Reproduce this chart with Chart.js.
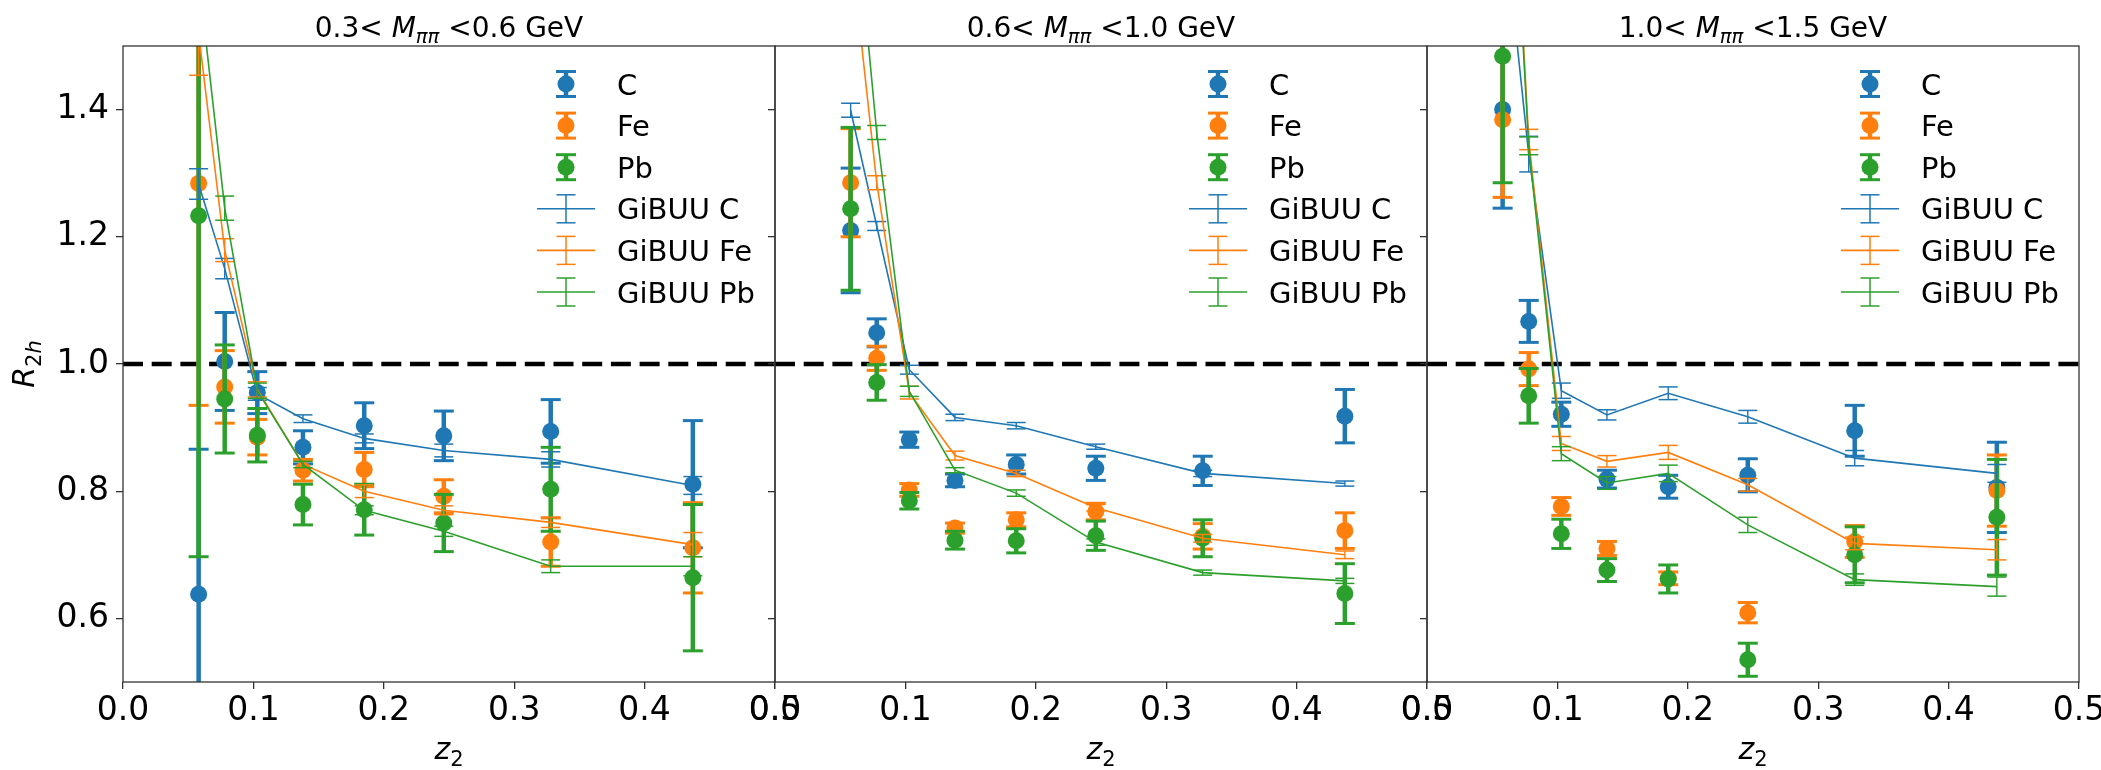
<!DOCTYPE html>
<html>
<head>
<meta charset="utf-8">
<script src="https://cdn.jsdelivr.net/npm/chart.js@4.4.0/dist/chart.umd.min.js"></script>
<style>
  body { margin: 0; background: #fff; }
  #wrap { position: relative; width: 2101px; height: 770px; overflow: hidden; background: #fff; }
  canvas { position: absolute; top: 0; }
</style>
</head>
<body>
<div id="wrap">
  <canvas id="c0" width="810" height="770" style="left:0px"></canvas>
  <canvas id="c1" width="732" height="770" style="left:730px"></canvas>
  <canvas id="c2" width="719" height="770" style="left:1382px"></canvas>
</div>
<script>
// z2 bin centres (same in all three mass bins)
const z2 = [0.058, 0.078, 0.103, 0.138, 0.185, 0.246, 0.328, 0.437];
const xTicks = [0, 0.1, 0.2, 0.3, 0.4, 0.5];
const yTicks = [0.6, 0.8, 1.0, 1.2, 1.4];
const massLo = ['0.3', '0.6', '1.0'];
const massHi = ['0.6', '1.0', '1.5'];
const nuclei = ['C', 'Fe', 'Pb'];
const refLine = 1.0;

// measured R2h, one row per mass bin
const dataC = [
    [0.638, 1.004, 0.955, 0.869, 0.903, 0.887, 0.894, 0.811],
    [1.210, 1.049, 0.881, 0.817, 0.842, 0.836, 0.832, 0.918],
    [1.400, 1.067, 0.921, 0.819, 0.807, 0.825, 0.895, 0.806]
];
const errC = [
    [0.228, 0.077, 0.033, 0.026, 0.036, 0.039, 0.050, 0.100],
    [0.098, 0.022, 0.012, 0.010, 0.015, 0.019, 0.023, 0.042],
    [0.155, 0.033, 0.019, 0.014, 0.018, 0.026, 0.040, 0.071]
];
const dataFe = [
    [1.284, 0.964, 0.885, 0.833, 0.834, 0.792, 0.720, 0.711],
    [1.285, 1.009, 0.802, 0.742, 0.755, 0.768, 0.729, 0.738],
    [1.384, 0.992, 0.776, 0.710, 0.663, 0.609, 0.721, 0.801]
];
const errFe = [
    [0.349, 0.057, 0.028, 0.017, 0.027, 0.026, 0.038, 0.071],
    [0.085, 0.019, 0.010, 0.008, 0.011, 0.013, 0.020, 0.028],
    [0.122, 0.026, 0.014, 0.011, 0.010, 0.016, 0.025, 0.056]
];
const dataPb = [
    [1.233, 0.945, 0.888, 0.779, 0.771, 0.750, 0.803, 0.664],
    [1.244, 0.971, 0.785, 0.723, 0.722, 0.730, 0.726, 0.639],
    [1.484, 0.950, 0.733, 0.676, 0.662, 0.535, 0.700, 0.759]
];
const errPb = [
    [0.536, 0.085, 0.042, 0.032, 0.040, 0.045, 0.066, 0.115],
    [0.128, 0.028, 0.013, 0.014, 0.019, 0.023, 0.029, 0.047],
    [0.199, 0.043, 0.023, 0.018, 0.022, 0.026, 0.044, 0.091]
];

// GiBUU model
const gibuuC = [
    [1.283, 1.150, 0.953, 0.914, 0.883, 0.864, 0.850, 0.809],
    [1.399, 1.217, 0.991, 0.916, 0.903, 0.870, 0.828, 0.812],
    [1.720, 1.330, 0.958, 0.920, 0.954, 0.917, 0.852, 0.828]
];
const gibuuErrC = [
    [0.024, 0.016, 0.010, 0.006, 0.007, 0.010, 0.012, 0.014],
    [0.011, 0.007, 0.007, 0.005, 0.005, 0.004, 0.005, 0.004],
    [0.040, 0.028, 0.012, 0.008, 0.010, 0.010, 0.012, 0.014]
];
const gibuuFe = [
    [1.520, 1.179, 0.960, 0.842, 0.800, 0.770, 0.751, 0.716],
    [1.660, 1.285, 0.955, 0.856, 0.828, 0.774, 0.726, 0.700],
    [2.100, 1.353, 0.875, 0.847, 0.861, 0.810, 0.718, 0.708]
];
const gibuuErrFe = [
    [0.066, 0.018, 0.012, 0.005, 0.010, 0.007, 0.008, 0.019],
    [0.030, 0.011, 0.010, 0.007, 0.005, 0.005, 0.006, 0.006],
    [0.050, 0.016, 0.011, 0.009, 0.011, 0.010, 0.010, 0.016]
];
const gibuuPb = [
    [1.610, 1.245, 0.958, 0.842, 0.770, 0.737, 0.682, 0.682],
    [1.800, 1.364, 0.957, 0.833, 0.797, 0.720, 0.672, 0.659],
    [2.080, 1.343, 0.859, 0.813, 0.828, 0.747, 0.661, 0.650]
];
const gibuuErrPb = [
    [0.030, 0.019, 0.012, 0.005, 0.007, 0.008, 0.010, 0.015],
    [0.030, 0.011, 0.008, 0.004, 0.005, 0.005, 0.004, 0.004],
    [0.050, 0.014, 0.011, 0.010, 0.013, 0.012, 0.009, 0.015]
];

const measVals = [dataC, dataFe, dataPb];
const measErrs = [errC, errFe, errPb];
const modelVals = [gibuuC, gibuuFe, gibuuPb];
const modelErrs = [gibuuErrC, gibuuErrFe, gibuuErrPb];

const colors = ['#1f77b4', '#ff7f0e', '#2ca02c'];
const FONT = '"DejaVu Sans"';
const PLOT_TOP = 46;
const PLOT_BOTTOM = 682;
const axisW = [123, 45, 45];   // space left of each plot area inside its canvas
const padRight = [35, 35, 22];

function line(ctx, x1, y1, x2, y2) {
    ctx.beginPath();
    ctx.moveTo(x1, y1);
    ctx.lineTo(x2, y2);
    ctx.stroke();
}

// text with italic parts and subscripts, like matplotlib mathtext
function drawRich(ctx, parts, x, y, size, align) {
    const fontOf = p => (p[1] ? 'italic ' : '') + (p[2] ? size * 0.7 : size) + 'px ' + FONT;
    let total = 0;
    parts.forEach(p => { ctx.font = fontOf(p); total += ctx.measureText(p[0]).width; });
    let cx = align === 'center' ? x - total / 2 : x;
    ctx.textAlign = 'left';
    ctx.textBaseline = 'alphabetic';
    parts.forEach(p => {
        ctx.font = fontOf(p);
        ctx.fillText(p[0], cx, y + (p[2] ? size * 0.22 : 0));
        cx += ctx.measureText(p[0]).width;
    });
}

// vertical error bars with caps, drawn just before each dataset
const errorBars = {
    id: 'errorBars',
    beforeDatasetDraw(chart, args) {
        const ds = chart.data.datasets[args.index];
        if (!ds.errors) return;
        const { ctx, chartArea, scales } = chart;
        ctx.save();
        ctx.beginPath();
        ctx.rect(chartArea.left, chartArea.top, chartArea.width, chartArea.height);
        ctx.clip();
        ctx.strokeStyle = ds.borderColor;
        ds.data.forEach((p, j) => {
            const x = scales.x.getPixelForValue(p.x);
            const yTop = scales.y.getPixelForValue(p.y + ds.errors[j]);
            const yBot = scales.y.getPixelForValue(p.y - ds.errors[j]);
            ctx.lineWidth = ds.errWidth;
            line(ctx, x, yTop, x, yBot);
            ctx.lineWidth = ds.capWidth;
            line(ctx, x - ds.capHalf, yTop, x + ds.capHalf, yTop);
            line(ctx, x - ds.capHalf, yBot, x + ds.capHalf, yBot);
        });
        ctx.restore();
    }
};

function makePanel(i) {
    const datasets = [];
    nuclei.forEach((n, k) => {
        datasets.push({
            label: n,
            data: z2.map((x, j) => ({ x: x, y: measVals[k][i][j] })),
            errors: measErrs[k][i],
            showLine: false,
            pointRadius: 8.5,
            pointHoverRadius: 8.5,
            pointBackgroundColor: colors[k],
            pointBorderWidth: 0,
            borderColor: colors[k],
            errWidth: 4.5,
            capWidth: 3,
            capHalf: 10,
            order: 6 - k,
            clip: 0
        });
    });
    nuclei.forEach((n, k) => {
        datasets.push({
            label: 'GiBUU ' + n,
            data: z2.map((x, j) => ({ x: x, y: modelVals[k][i][j] })),
            errors: modelErrs[k][i],
            showLine: true,
            borderWidth: 1.6,
            borderColor: colors[k],
            pointRadius: 0,
            pointHoverRadius: 0,
            errWidth: 1.4,
            capWidth: 1.5,
            capHalf: 9.5,
            order: 3 - k,
            clip: 0
        });
    });

    const decor = {
        id: 'decor' + i,
        beforeDatasetsDraw(chart) {
            // dashed reference line at R2h = 1
            const { ctx, chartArea, scales } = chart;
            const y = scales.y.getPixelForValue(refLine);
            ctx.save();
            ctx.strokeStyle = '#000';
            ctx.lineWidth = 4.5;
            ctx.setLineDash([20, 8.7]);
            line(ctx, chartArea.left, y, chartArea.right, y);
            ctx.restore();
        },
        afterDraw(chart) {
            const { ctx, chartArea } = chart;
            const cx = (chartArea.left + chartArea.right) / 2;
            ctx.save();
            // frame
            ctx.strokeStyle = '#333';
            ctx.lineWidth = 1.3;
            ctx.strokeRect(chartArea.left, chartArea.top, chartArea.width, chartArea.height);

            ctx.fillStyle = '#000';
            drawRich(ctx, [[massLo[i] + '<', 0, 0], [' ', 0, 0], ['M', 1, 0], ['ππ', 1, 1], [' <' + massHi[i] + ' GeV', 0, 0]],
                cx, 37, 28, 'center');
            drawRich(ctx, [['z', 1, 0], ['2', 0, 1]], cx, 759, 30, 'center');
            if (i === 0) {
                ctx.save();
                ctx.translate(34, (PLOT_TOP + PLOT_BOTTOM) / 2);
                ctx.rotate(-Math.PI / 2);
                drawRich(ctx, [['R', 1, 0], ['2', 0, 1], ['h', 1, 1]], 0, 0, 30, 'center');
                ctx.restore();
            }

            // legend
            const legX = chartArea.left + 443;
            const textX = chartArea.left + 494;
            chart.data.datasets.forEach((ds, k) => {
                const y = 84 + k * 41.6;
                const c = colors[k % 3];
                ctx.strokeStyle = c;
                if (k < 3) {
                    ctx.lineWidth = 4.5;
                    line(ctx, legX, y - 12.5, legX, y + 12.5);
                    ctx.lineWidth = 3;
                    line(ctx, legX - 10, y - 12.5, legX + 10, y - 12.5);
                    line(ctx, legX - 10, y + 12.5, legX + 10, y + 12.5);
                    ctx.fillStyle = c;
                    ctx.beginPath();
                    ctx.arc(legX, y, 8.5, 0, Math.PI * 2);
                    ctx.fill();
                } else {
                    ctx.lineWidth = 1.6;
                    line(ctx, legX - 29, y, legX + 29, y);
                    ctx.lineWidth = 1.5;
                    line(ctx, legX, y - 14, legX, y + 14);
                    line(ctx, legX - 9.5, y - 14, legX + 9.5, y - 14);
                    line(ctx, legX - 9.5, y + 14, legX + 9.5, y + 14);
                }
                ctx.fillStyle = '#000';
                ctx.font = '29px ' + FONT;
                ctx.textAlign = 'left';
                ctx.textBaseline = 'alphabetic';
                ctx.fillText(ds.label, textX, y + 29 * 0.364);
            });
            ctx.restore();
        }
    };

    const canvas = document.getElementById('c' + i);
    return new Chart(canvas.getContext('2d'), {
        type: 'scatter',
        data: { datasets: datasets },
        plugins: [errorBars, decor],
        options: {
            responsive: false,
            animation: false,
            devicePixelRatio: 1,
            layout: { padding: { left: 0, right: padRight[i], top: PLOT_TOP, bottom: 0 } },
            plugins: {
                legend: { display: false },
                tooltip: { enabled: false },
                title: { display: false }
            },
            scales: {
                x: {
                    type: 'linear',
                    min: 0,
                    max: 0.5,
                    afterBuildTicks: s => { s.ticks = xTicks.map(v => ({ value: v })); },
                    afterFit: s => { s.height = 770 - PLOT_BOTTOM; s.paddingLeft = 0; s.paddingRight = 0; },
                    ticks: {
                        callback: v => v.toFixed(1),
                        font: { family: FONT, size: 33 },
                        color: '#000',
                        padding: 3,
                        maxRotation: 0,
                        autoSkip: false
                    },
                    grid: { drawOnChartArea: false, drawTicks: true, tickLength: 7, color: '#333', lineWidth: 1.3 },
                    border: { display: false }
                },
                y: {
                    type: 'linear',
                    min: 0.5,
                    max: 1.5,
                    afterBuildTicks: s => { s.ticks = yTicks.map(v => ({ value: v })); },
                    afterFit: s => { s.width = axisW[i]; },
                    ticks: {
                        display: i === 0,
                        callback: v => v.toFixed(1),
                        font: { family: FONT, size: 33 },
                        color: '#000',
                        padding: 7
                    },
                    grid: { drawOnChartArea: false, drawTicks: true, tickLength: 7, color: '#333', lineWidth: 1.3 },
                    border: { display: false }
                }
            }
        }
    });
}

[0, 1, 2].forEach(makePanel);
</script>
</body>
</html>
